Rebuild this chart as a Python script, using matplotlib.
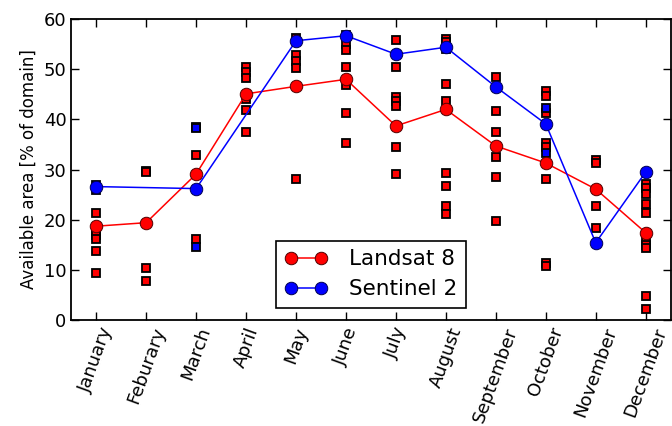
import matplotlib.pyplot as plt
import numpy as np

months = ['January', 'Feburary', 'March', 'April', 'May', 'June', 'July',
          'August', 'September', 'October', 'November', 'December']

# monthly averages (circles)
landsat_x = [0, 1, 2, 3, 4, 5, 6, 7, 8, 9, 10, 11]
landsat_mean = [18.7, 19.4, 29.1, 45.1, 46.6, 48.0, 38.7, 42.0, 34.7, 31.3, 26.1, 17.4]
sentinel_x = [0, 2, 4, 5, 6, 7, 8, 9, 10, 11]
sentinel_mean = [26.6, 26.2, 55.7, 56.7, 53.0, 54.4, 46.5, 39.1, 15.4, 29.5]

# single scenes (squares)
landsat_scenes = [
    [26.0, 21.3, 17.8, 17.0, 16.2, 13.8, 9.3],
    [29.8, 29.5, 10.3, 7.8],
    [38.5, 32.9, 16.1],
    [50.5, 49.5, 48.2, 44.0, 41.9, 37.4],
    [56.2, 52.8, 51.6, 50.3, 28.1],
    [56.8, 55.1, 53.8, 50.5, 46.8, 41.2, 35.3],
    [55.8, 50.5, 44.5, 43.6, 42.6, 34.5, 29.2],
    [56.0, 55.4, 54.0, 47.1, 43.6, 29.3, 26.8, 22.7, 21.1],
    [48.5, 41.7, 37.4, 32.6, 28.6, 19.7],
    [45.6, 44.6, 41.3, 35.2, 34.5, 28.2, 11.3, 10.8],
    [31.9, 31.4, 22.8, 18.4],
    [27.2, 26.4, 25.2, 23.1, 21.4, 16.0, 14.9, 14.3, 4.8, 2.2],
]
sentinel_scene_x = [0, 2, 2, 9, 9]
sentinel_scenes = [26.9, 38.3, 14.5, 42.3, 33.3]

fig = plt.figure(figsize=(6.72, 4.26), dpi=100)
ax = fig.add_axes([0.106, 0.249, 0.892, 0.706])

for i, vals in enumerate(landsat_scenes):
    ax.plot([i] * len(vals), vals, 's', color='red', mec='black', mew=1.3,
            ms=6.2, zorder=2)
ax.plot(sentinel_scene_x, sentinel_scenes, 's', color='blue', mec='black',
        mew=1.3, ms=6.2, zorder=2)

ax.plot(landsat_x, landsat_mean, '-o', color='red', mec='#500000', mew=0.7,
        ms=9, lw=1.1, label='Landsat 8', zorder=3)
ax.plot(sentinel_x, sentinel_mean, '-o', color='blue', mec='#000050', mew=0.7,
        ms=9, lw=1.1, label='Sentinel 2', zorder=4)

ax.set_xlim(-0.5, 11.5)
ax.set_ylim(0, 60)
ax.set_xticks(range(12))
ax.set_xticklabels(months, rotation=70, fontsize=13)
ax.set_yticks(np.arange(0, 61, 10))
ax.tick_params(axis='y', labelsize=13)
ax.tick_params(direction='in', length=6, top=True, right=True, width=1)
ax.set_ylabel('Available area [% of domain]', fontsize=12)
for s in ax.spines.values():
    s.set_linewidth(1.3)

leg = ax.legend(loc='lower center', bbox_to_anchor=(0.5, 0.005), fontsize=15.5,
                numpoints=2, fancybox=False, edgecolor='black', framealpha=1,
                handlelength=2.0, labelspacing=0.45, handletextpad=1.0)
leg.get_frame().set_linewidth(1.2)

fig.savefig('out.png', dpi=100)
